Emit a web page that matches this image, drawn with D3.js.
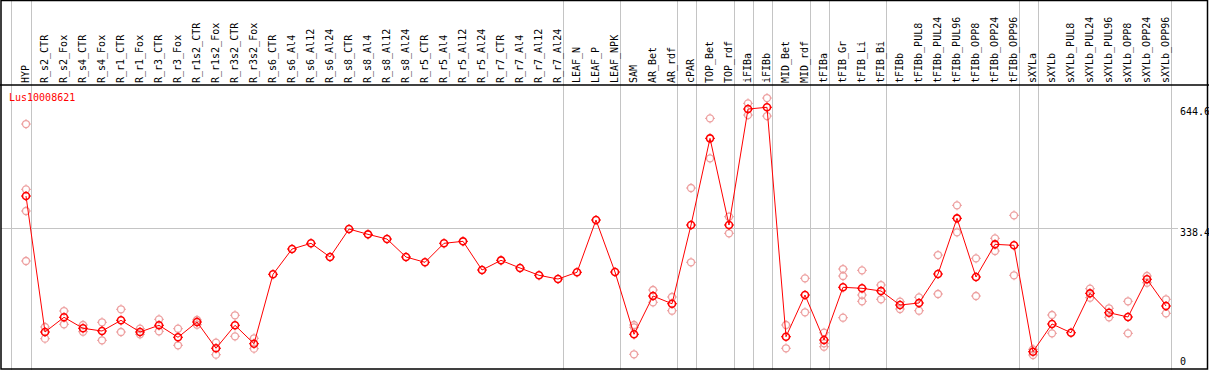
<!DOCTYPE html>
<html>
<head>
<meta charset="utf-8">
<script src="https://cdn.jsdelivr.net/npm/d3@7"></script>
<style>
  body { margin: 0; background: #fff; }
  svg text { font-family: "DejaVu Sans Mono", monospace; font-size: 10px; }
</style>
</head>
<body>
<svg width="1209" height="370"></svg>
<script>
// sample names (columns)
var samples = ['HYP','R_s2_CTR','R_s2_Fox','R_s4_CTR','R_s4_Fox','R_r1_CTR','R_r1_Fox','R_r3_CTR','R_r3_Fox',
    'R_r1s2_CTR','R_r1s2_Fox','R_r3s2_CTR','R_r3s2_Fox','R_s6_CTR','R_s6_Al4','R_s6_Al12','R_s6_Al24',
    'R_s8_CTR','R_s8_Al4','R_s8_Al12','R_s8_Al24','R_r5_CTR','R_r5_Al4','R_r5_Al12','R_r5_Al24',
    'R_r7_CTR','R_r7_Al4','R_r7_Al12','R_r7_Al24','LEAF_N','LEAF_P','LEAF_NPK','SAM','AR_Bet','AR_rdf',
    'cPAR','TOP_Bet','TOP_rdf','iFIBa','iFIBb','MID_Bet','MID_rdf','tFIBa','tFIB_Gr','tFIB_Li','tFIB_Bi',
    'tFIBb','tFIBb_PUL8','tFIBb_PUL24','tFIBb_PUL96','tFIBb_OPP8','tFIBb_OPP24','tFIBb_OPP96',
    'sXYLa','sXYLb','sXYLb_PUL8','sXYLb_PUL24','sXYLb_PUL96','sXYLb_OPP8','sXYLb_OPP24','sXYLb_OPP96'];

// mean expression per sample
var means = [420.0, 75.9, 113.1, 85.3, 78.4, 105.5, 75.9, 92.9, 62.5,
    101.2, 34.7, 92.9, 46.3, 221.9, 285.9, 300.4, 265.7,
    336.5, 323.1, 311.2, 265.7, 252.3, 300.4, 305.4, 232.8,
    257.3, 237.9, 219.4, 210.0, 227.0, 359.3, 227.7, 70.1, 167.0, 147.5,
    346.7, 566.0, 346.7, 640.2, 644.6, 64.0, 169.5, 55.7, 189.0, 186.5, 179.7,
    144.2, 149.3, 222.7, 363.6, 215.1, 297.8, 295.3,
    26.1, 96.2, 74.1, 173.8, 124.7, 113.9, 209.3, 141.7];

// individual replicates per sample
var replicates = [[602.2, 437.0, 382.1, 255.6], [88.6, 59.0], [129.0, 95.4], [93.6, 76.7], [100.5, 54.9],
    [133.4, 75.9], [84.3, 70.1], [108.0, 77.7], [84.3, 42.3],
    [106.3, 94.4], [48.8, 18.5], [118.2, 65.0], [60.0, 33.7], [], [], [], [],
    [], [], [], [], [], [], [], [],
    [], [], [], [], [], [], [], [93.6, 87.8, 19.5], [182.2, 151.1], [164.5, 129.8],
    [440.3, 252.3], [616.6, 515.4], [367.7, 325.7], [654.6, 625.0], [668.0, 622.5], [93.6, 34.7], [211.8, 125.8],
    [74.1, 47.3, 38.7], [235.3, 217.6, 112.1], [232.0, 169.5, 153.6], [194.8, 158.7],
    [152.6, 134.1], [163.7, 129.8], [270.7, 172.1], [396.5, 328.2], [262.4, 167.0], [313.0, 280.9], [371.2, 219.4],
    [32.1, 17.7], [118.9, 72.6], [], [185.5, 162.7], [135.9, 113.1], [153.6, 72.6], [217.6, 200.7], [158.7, 123.2]];

// separators drawn after these sample indices
var groupEnds = [0, 28, 31, 34, 35, 37, 38, 39, 41, 42, 45, 52, 53, 60];

var yTicks = [0, 338.4, 644.6];
var geneName = 'Lus10008621';

var svg = d3.select('svg');
var W = 1209, H = 370;
var headerY = 85;

var x = d3.scaleBand().domain(samples).range([11.5, 1170.5]).paddingInner(0).paddingOuter(0);
var bw = x.bandwidth();
var px = function(d){ return x(d) + bw - 4.5; };

var y = d3.scaleLinear().domain([0, 644.6]).range([362, 107.3]);

// vertical separators
svg.append('line')
    .attr('x1', 11.5).attr('x2', 11.5).attr('y1', 0).attr('y2', H)
    .attr('stroke', '#c4c4c4');
svg.selectAll('.sep')
    .data(groupEnds)
    .enter().append('line')
    .attr('class', 'sep')
    .attr('x1', function(i){ return Math.round(x(samples[i]) + bw) + 0.5; })
    .attr('x2', function(i){ return Math.round(x(samples[i]) + bw) + 0.5; })
    .attr('y1', 0).attr('y2', H)
    .attr('stroke', '#c4c4c4');

// horizontal reference line
svg.append('line')
    .attr('x1', 1).attr('x2', 1178)
    .attr('y1', Math.round(y(338.4)) + 0.5).attr('y2', Math.round(y(338.4)) + 0.5)
    .attr('stroke', '#c4c4c4');

// frame
svg.append('rect')
    .attr('x', 1).attr('y', 0.5).attr('width', 1206.5).attr('height', 368.5)
    .attr('fill', 'none').attr('stroke', '#000').attr('stroke-width', 1.5);
svg.append('line')
    .attr('x1', 0).attr('x2', W).attr('y1', headerY).attr('y2', headerY)
    .attr('stroke', '#000').attr('stroke-width', 1.5);

// column labels
svg.selectAll('.lbl')
    .data(samples)
    .enter().append('text')
    .attr('class', 'lbl')
    .attr('transform', function(d){ return 'translate(' + [px(d) + 3, 83] + ') rotate(-90)'; })
    .attr('fill', '#000')
    .text(function(d){ return d; });

// right axis labels
svg.selectAll('.ytick')
    .data(yTicks)
    .enter().append('text')
    .attr('class', 'ytick')
    .attr('x', 1180)
    .attr('y', function(d){ return Math.min(y(d) + 7.5, 365); })
    .attr('fill', '#000')
    .text(function(d){ return d; });

// gene name
svg.append('text')
    .attr('x', 9).attr('y', 101)
    .attr('fill', '#ff0000')
    .text(geneName);

function marker(g, cx, cy, color, sw) {
    g.append('circle').attr('cx', cx).attr('cy', cy).attr('r', 3.5)
        .attr('fill', 'none').attr('stroke', color).attr('stroke-width', sw);
    [[0, -1], [0, 1], [-1, 0], [1, 0]].forEach(function(o){
        g.append('line')
            .attr('x1', cx + o[0] * 3.5).attr('y1', cy + o[1] * 3.5)
            .attr('x2', cx + o[0] * 5).attr('y2', cy + o[1] * 5)
            .attr('stroke', color).attr('stroke-width', 1);
    });
}

// replicates
var repG = svg.append('g');
samples.forEach(function(s, i){
    replicates[i].forEach(function(v){
        marker(repG, px(s), y(v), '#eda0a0', 1.3);
    });
});

// mean line
var line = d3.line()
    .x(function(d, i){ return px(samples[i]); })
    .y(function(d){ return y(d); });
svg.append('path')
    .datum(means)
    .attr('d', line)
    .attr('fill', 'none')
    .attr('stroke', '#ff0000')
    .attr('stroke-width', 1);

var meanG = svg.append('g');
samples.forEach(function(s, i){
    marker(meanG, px(s), y(means[i]), '#ff0000', 1.6);
});
</script>
</body>
</html>
